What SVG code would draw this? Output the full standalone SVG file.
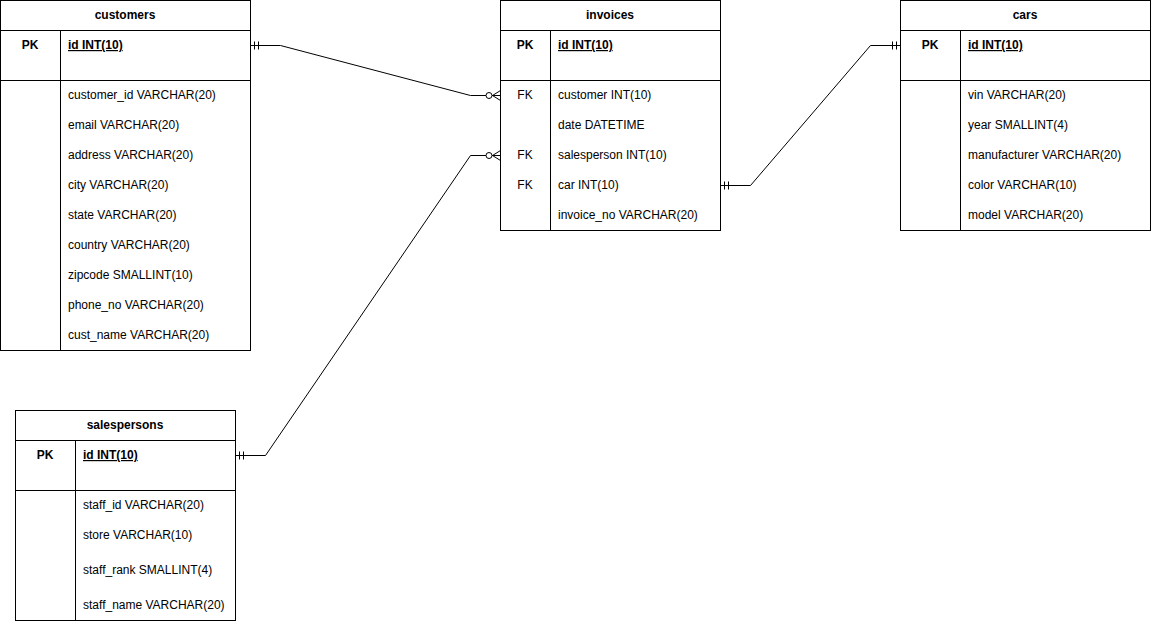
<svg xmlns="http://www.w3.org/2000/svg" width="1151" height="621" viewBox="0 0 1151 621">
<style>
.box{fill:#fff;stroke:#000;stroke-width:1}
.ln{fill:none;stroke:#000;stroke-width:1}
text{font-family:"Liberation Sans",Arial,sans-serif;font-size:12px;fill:#000}
.h{font-weight:bold;text-anchor:middle}
.k{text-anchor:middle}
.pk{font-weight:bold;text-anchor:middle}
.u{font-weight:bold;text-decoration:underline}
.conn{fill:none;stroke:#000;stroke-width:1}
</style>
<defs>
<marker id="one" markerUnits="userSpaceOnUse" markerWidth="20" markerHeight="20" refX="0" refY="0" viewBox="-10 -10 20 20" orient="auto-start-reverse" overflow="visible">
<path d="M-4,-4V4M-8,-4V4" fill="none" stroke="#000" stroke-width="1"/>
</marker>
<marker id="zmany" markerUnits="userSpaceOnUse" markerWidth="24" markerHeight="20" refX="0" refY="0" viewBox="-16 -10 24 20" orient="auto" overflow="visible">
<path d="M-8,0L0,-5M-8,0L0,0M-8,0L0,5" fill="none" stroke="#000" stroke-width="1"/>
<circle cx="-11.5" cy="0" r="3" fill="#fff" stroke="#000" stroke-width="1"/>
</marker>
</defs>

<g id="connectors">
<path class="conn" d="M250.5,45.5H280.5L470.5,95.5H500.5" marker-start="url(#one)" marker-end="url(#zmany)"/>
<path class="conn" d="M235.5,455.5H265.5L470.5,155.5H500.5" marker-start="url(#one)" marker-end="url(#zmany)"/>
<path class="conn" d="M720.5,185.5H750.5L870.5,45.5H900.5" marker-start="url(#one)" marker-end="url(#one)"/>
</g>

<g id="customers">
<rect class="box" x="0.5" y="0.5" width="250" height="350"/>
<path class="ln" d="M0.5,30.5H250.5M0.5,80.5H250.5M60.5,30.5V350.5"/>
<text class="h" x="125" y="19">customers</text>
<text class="pk" x="30" y="49">PK</text>
<text class="u" x="68" y="49">id INT(10)</text>
<text x="68" y="99">customer_id VARCHAR(20)</text>
<text x="68" y="129">email VARCHAR(20)</text>
<text x="68" y="159">address VARCHAR(20)</text>
<text x="68" y="189">city VARCHAR(20)</text>
<text x="68" y="219">state VARCHAR(20)</text>
<text x="68" y="249">country VARCHAR(20)</text>
<text x="68" y="279">zipcode SMALLINT(10)</text>
<text x="68" y="309">phone_no VARCHAR(20)</text>
<text x="68" y="339">cust_name VARCHAR(20)</text>
</g>

<g id="invoices">
<rect class="box" x="500.5" y="0.5" width="220" height="230"/>
<path class="ln" d="M500.5,30.5H720.5M500.5,80.5H720.5M550.5,30.5V230.5"/>
<text class="h" x="610" y="19">invoices</text>
<text class="pk" x="525" y="49">PK</text>
<text class="u" x="558" y="49">id INT(10)</text>
<text class="k" x="525" y="99">FK</text>
<text x="558" y="99">customer INT(10)</text>
<text x="558" y="129">date DATETIME</text>
<text class="k" x="525" y="159">FK</text>
<text x="558" y="159">salesperson INT(10)</text>
<text class="k" x="525" y="189">FK</text>
<text x="558" y="189">car INT(10)</text>
<text x="558" y="219">invoice_no VARCHAR(20)</text>
</g>

<g id="cars">
<rect class="box" x="900.5" y="0.5" width="250" height="230"/>
<path class="ln" d="M900.5,30.5H1150.5M900.5,80.5H1150.5M960.5,30.5V230.5"/>
<text class="h" x="1025" y="19">cars</text>
<text class="pk" x="930" y="49">PK</text>
<text class="u" x="968" y="49">id INT(10)</text>
<text x="968" y="99">vin VARCHAR(20)</text>
<text x="968" y="129">year SMALLINT(4)</text>
<text x="968" y="159">manufacturer VARCHAR(20)</text>
<text x="968" y="189">color VARCHAR(10)</text>
<text x="968" y="219">model VARCHAR(20)</text>
</g>

<g id="salespersons">
<rect class="box" x="15.5" y="410.5" width="220" height="210"/>
<path class="ln" d="M15.5,440.5H235.5M15.5,490.5H235.5M75.5,440.5V620.5"/>
<text class="h" x="125" y="429">salespersons</text>
<text class="pk" x="45" y="459">PK</text>
<text class="u" x="83" y="459">id INT(10)</text>
<text x="83" y="509">staff_id VARCHAR(20)</text>
<text x="83" y="539">store VARCHAR(10)</text>
<text x="83" y="574">staff_rank SMALLINT(4)</text>
<text x="83" y="609">staff_name VARCHAR(20)</text>
</g>
</svg>
